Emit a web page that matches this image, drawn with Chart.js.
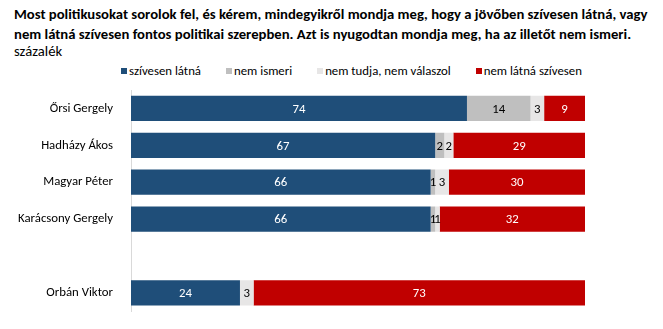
<!DOCTYPE html>
<html>
<head>
<meta charset="utf-8">
<script src="https://cdn.jsdelivr.net/npm/chart.js@4.4.1/dist/chart.umd.min.js"></script>
<style>
  html, body { margin: 0; padding: 0; background: #fff; }
  #wrap { position: relative; width: 663px; height: 329px; font-family: Carlito, Calibri, sans-serif; color: #000; }
  #title { position: absolute; left: 14px; top: 4px; font-weight: bold; font-size: 14.7px; line-height: 20px; white-space: nowrap; }
  #unit { position: absolute; left: 14px; top: 42px; font-size: 14.7px; line-height: 18px; }
  #legend { position: absolute; left: 121px; top: 63px; display: flex; font-size: 12.8px; line-height: 16px; }
  #legend span.item { display: flex; align-items: center; margin-right: 25px; white-space: nowrap; }
  #legend span.box { width: 6px; height: 6px; margin-right: 2px; }
  canvas { position: absolute; left: 0; top: 0; }
</style>
</head>
<body>
<div id="wrap">
  <div id="title">Most politikusokat sorolok fel, és kérem, mindegyikről mondja meg, hogy a jövőben szívesen látná, vagy<br>nem látná szívesen fontos politikai szerepben. Azt is nyugodtan mondja meg, ha az illetőt nem ismeri.</div>
  <div id="unit">százalék</div>
  <div id="legend"></div>
  <canvas id="chart" width="663" height="329"></canvas>
</div>
<script>
const FONT = "Carlito, Calibri, sans-serif";

// adatok
const names = ["Őrsi Gergely", "Hadházy Ákos", "Magyar Péter", "Karácsony Gergely", "", "Orbán Viktor"];
const szivesen = [74, 67, 66, 66, null, 24];
const nemIsmeri = [14, 2, 1, 1, null, 0];
const nemTudja = [3, 2, 3, 1, null, 3];
const nemLatna = [9, 29, 30, 32, null, 73];

const seriesNames = ["szívesen látná", "nem ismeri", "nem tudja, nem válaszol", "nem látná szívesen"];
const colors = ["#1f4e79", "#bfbfbf", "#e7e6e6", "#c00000"];
const labelColors = ["#fff", "#000", "#000", "#fff"];

// jelmagyarázat
document.getElementById("legend").innerHTML = seriesNames.map((n, i) =>
    `<span class="item"><span class="box" style="background:${colors[i]}"></span>${n}</span>`
).join("");

// értékek kiírása a sávokra
const barLabels = {
    id: "barLabels",
    afterDatasetsDraw(chart) {
        const ctx = chart.ctx;
        ctx.save();
        ctx.font = "12.8px " + FONT;
        ctx.textAlign = "center";
        ctx.textBaseline = "middle";
        chart.data.datasets.forEach((ds, i) => {
            chart.getDatasetMeta(i).data.forEach((el, j) => {
                const v = ds.data[j];
                if (!v) return;
                ctx.fillStyle = labelColors[i];
                ctx.fillText(v, (el.x + el.base) / 2, el.y + 1);
            });
        });
        ctx.restore();
    }
};

new Chart(document.getElementById("chart"), {
    type: "bar",
    data: {
        labels: names,
        datasets: [szivesen, nemIsmeri, nemTudja, nemLatna].map((d, i) => ({
            label: seriesNames[i],
            data: d,
            backgroundColor: colors[i],
            borderWidth: 0,
            barPercentage: 0.684,
            categoryPercentage: 1
        }))
    },
    options: {
        indexAxis: "y",
        responsive: false,
        animation: false,
        layout: { padding: { left: 0, right: 78, bottom: 11, top: 90 } },
        scales: {
            x: { stacked: true, min: 0, max: 100, display: false },
            y: {
                stacked: true,
                grid: { display: false },
                border: { display: true, color: "#d9d9d9" },
                ticks: { color: "#000", font: { size: 12.8, family: FONT }, padding: 10 },
                afterFit: s => { s.width = 131; }
            }
        },
        plugins: {
            legend: { display: false },
            tooltip: { enabled: false }
        }
    },
    plugins: [barLabels]
});
</script>
</body>
</html>
